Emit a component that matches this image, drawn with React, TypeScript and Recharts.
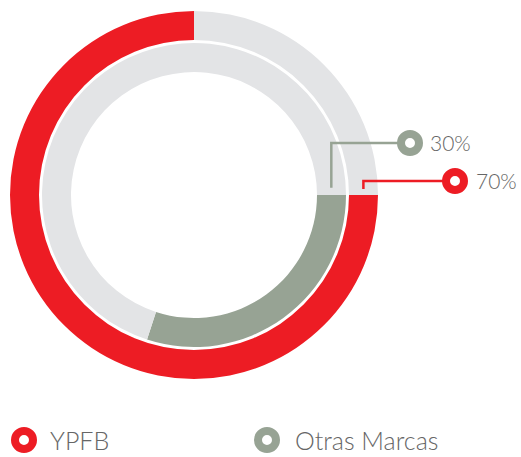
import { PieChart, Pie, Cell } from 'recharts';

// values
const brands = ['YPFB', 'Otras Marcas'];
const shareLabels = ['70%', '30%'];
const outerRing = [
  { name: 'YPFB', value: 75 },
  { name: 'resto', value: 25 },
];
const innerRing = [
  { name: 'Otras Marcas', value: 30 },
  { name: 'resto', value: 70 },
];

const RED = '#ed1c24';
const SAGE = '#97a394';
const LIGHT = '#e3e4e6';
const TEXT = '#666666';
const FONT = 'Lato, "Open Sans", sans-serif';

const W = 521;
const H = 457;
const CX = 194;
const CY = 195;
const OUTER = [155, 184];
const INNER = [123, 152];

// point on a ring at an angle (degrees, counter-clockwise from 3 o'clock)
const polar = (r: number, deg: number) => ({
  x: CX + r * Math.cos((deg * Math.PI) / 180),
  y: CY - r * Math.sin((deg * Math.PI) / 180),
});

function Marker({ x, y, color }: { x: number; y: number; color: string }) {
  return <circle cx={x} cy={y} r={9} fill="#fff" stroke={color} strokeWidth={8} />;
}

export default function App() {
  const innerStart = polar((INNER[0] + INNER[1]) / 2, 3);
  const outerStart = polar((OUTER[0] + OUTER[1]) / 2, 2);
  const sageY = 143;
  const redY = 181;
  const sageMarkX = 410;
  const redMarkX = 455;

  return (
    <div style={{ position: 'absolute', left: 0, top: 0, width: W, height: H, background: '#fff' }}>
      <PieChart width={W} height={H} margin={{ top: 0, right: 0, bottom: 0, left: 0 }}>
        <Pie
          data={outerRing}
          dataKey="value"
          cx={CX}
          cy={CY}
          innerRadius={OUTER[0]}
          outerRadius={OUTER[1]}
          startAngle={90}
          endAngle={450}
          stroke="none"
          isAnimationActive={false}
        >
          <Cell fill={RED} />
          <Cell fill={LIGHT} />
        </Pie>
        <Pie
          data={innerRing}
          dataKey="value"
          cx={CX}
          cy={CY}
          innerRadius={INNER[0]}
          outerRadius={INNER[1]}
          startAngle={0}
          endAngle={-360}
          stroke="none"
          isAnimationActive={false}
        >
          <Cell fill={SAGE} />
          <Cell fill={LIGHT} />
        </Pie>
      </PieChart>

      <svg width={W} height={H} style={{ position: 'absolute', left: 0, top: 0 }}>
        {/* leader lines */}
        <polyline
          points={`${innerStart.x},${innerStart.y} ${innerStart.x},${sageY} ${sageMarkX},${sageY}`}
          fill="none"
          stroke={SAGE}
          strokeWidth={2.5}
        />
        <polyline
          points={`${outerStart.x},${outerStart.y} ${outerStart.x},${redY} ${redMarkX},${redY}`}
          fill="none"
          stroke={RED}
          strokeWidth={2.5}
        />
        <Marker x={sageMarkX} y={sageY} color={SAGE} />
        <Marker x={redMarkX} y={redY} color={RED} />
        <text x={430} y={151} fontSize={21} fill={TEXT} fontFamily={FONT} fontWeight={300}>
          {shareLabels[1]}
        </text>
        <text x={476} y={189} fontSize={21} fill={TEXT} fontFamily={FONT} fontWeight={300}>
          {shareLabels[0]}
        </text>

        {/* legend */}
        <Marker x={24} y={440} color={RED} />
        <text x={50} y={450} fontSize={25} fill={TEXT} fontFamily={FONT} fontWeight={300}>
          {brands[0]}
        </text>
        <Marker x={267} y={440} color={SAGE} />
        <text x={295} y={450} fontSize={25} fill={TEXT} fontFamily={FONT} fontWeight={300}>
          {brands[1]}
        </text>
      </svg>
    </div>
  );
}
